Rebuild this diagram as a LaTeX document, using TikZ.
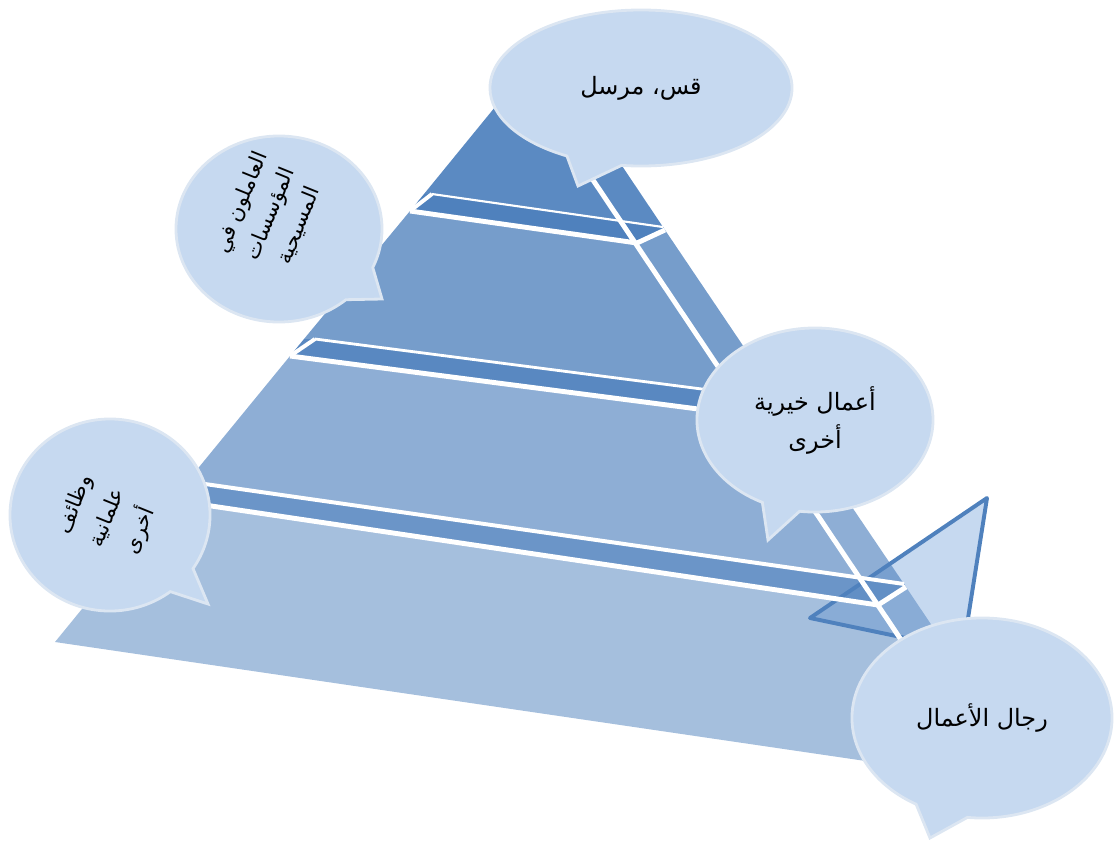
\documentclass[tikz,border=0pt]{standalone}
\usepackage{fontspec}
\usepackage{tikz}
\usetikzlibrary{shapes.callouts}
\newfontfamily\arabicfont[Script=Arabic]{DejaVu Sans}
\TeXXeTstate=1
\definecolor{pyrblue}{HTML}{4F81BD}
\definecolor{bubblefill}{HTML}{C6D9F0}
\definecolor{bubbleline}{HTML}{DCE6F2}

\begin{document}
\begin{tikzpicture}[x=0.025cm, y=-0.025cm,
    bubble/.style={ellipse callout, fill=bubblefill, draw=bubbleline,
      line width=2pt, inner sep=0pt, align=center,
      font=\arabicfont\fontsize{17}{27}\selectfont},
    sidetext/.style={rotate=68, align=center, inner sep=0pt,
      font=\arabicfont\fontsize{15}{22}\selectfont},
    gapline/.style={white, line width=3.5pt},
    backline/.style={white, line width=1.5pt}]
    \useasboundingbox (0,0) rectangle (1114,844);

    % Triangle behind the pyramid
    \filldraw[fill=bubblefill, draw=pyrblue, line width=2.8pt, line join=round]
        (987,498) -- (810,618) -- (963,650) -- cycle;

    % Corners of the pyramid
    \coordinate (apex) at (522,74);
    \coordinate (sidetop) at (551,60);
    \coordinate (baseL) at (55,642);
    \coordinate (baseR) at (995,780);
    \coordinate (baseS) at (1026,766);

    % Steps: front left, left edge, back left, back right, side, front right
    \coordinate (fl1) at (410,211); \coordinate (lb1) at (424,194);
    \coordinate (bl1) at (432,194); \coordinate (br1) at (663,227);
    \coordinate (s1) at (665,230);  \coordinate (fr1) at (637,243);

    \coordinate (fl2) at (290,356); \coordinate (lb2) at (304,339);
    \coordinate (bl2) at (315,339); \coordinate (br2) at (779,399);
    \coordinate (s2) at (781,402);  \coordinate (fr2) at (752,416);

    \coordinate (fl3) at (171,500); \coordinate (lb3) at (186,483);
    \coordinate (bl3) at (198,483); \coordinate (br3) at (904,584);
    \coordinate (s3) at (906,587);  \coordinate (fr3) at (878,605);

    % Layers
    \fill[pyrblue, fill opacity=0.93] (apex) -- (sidetop) -- (br1) -- (bl1) -- (lb1) -- cycle;
    \fill[pyrblue, fill opacity=0.78] (fl1) -- (fr1) -- (s1) -- (br2) -- (bl2) -- (lb2) -- cycle;
    \fill[pyrblue, fill opacity=0.64] (fl2) -- (fr2) -- (s2) -- (br3) -- (bl3) -- (lb3) -- cycle;
    \fill[pyrblue, fill opacity=0.51] (fl3) -- (fr3) -- (s3) -- (baseS) -- (baseR) -- (baseL) -- cycle;

    % Top faces of the steps
    \fill[pyrblue] (fl1) -- (lb1) -- (bl1) -- (br1) -- (s1) -- (fr1) -- cycle;
    \fill[pyrblue, fill opacity=0.94] (fl2) -- (lb2) -- (bl2) -- (br2) -- (s2) -- (fr2) -- cycle;
    \fill[pyrblue, fill opacity=0.84] (fl3) -- (lb3) -- (bl3) -- (br3) -- (s3) -- (fr3) -- cycle;

    % White gaps
    \draw[gapline] (apex) -- (baseR);
    \foreach \i in {1,2,3} {
        \draw[gapline] (fl\i) -- (fr\i) -- (s\i);
        \draw[gapline, line width=2.8pt] (fl\i) -- (bl\i);
    }
    \draw[backline] (bl1) -- (br1);
    \draw[backline, line width=2pt] (bl2) -- (br2);
    \draw[backline, line width=2.8pt] (bl3) -- (br3);

    % Speech bubbles
    \node[bubble, minimum width=7.55cm, minimum height=3.9cm,
        callout absolute pointer={(578,186)}, callout pointer arc=22]
        (priest) at (641,88) {\beginR قس، مرسل\endR};
    \node[bubble, minimum width=5.15cm, minimum height=4.65cm,
        callout absolute pointer={(382,299)}, callout pointer arc=25]
        (workers) at (279,229) {};
    \node[sidetext] (workerstext) at (270,214)
        {\beginR العاملون في\endR\\\beginR المؤسسات\endR\\\beginR المسيحية\endR};
    \node[bubble, minimum width=5.9cm, minimum height=4.6cm,
        callout absolute pointer={(768,540)}, callout pointer arc=19]
        (charity) at (815,420) {\beginR أعمال خيرية\endR\\\beginR أخرى\endR};
    \node[bubble, minimum width=5cm, minimum height=4.8cm,
        callout absolute pointer={(208,604)}, callout pointer arc=19]
        (secular) at (110,515) {};
    \node[sidetext, font=\arabicfont\fontsize{15}{25}\selectfont]
        (seculartext) at (108,518)
        {\beginR وظائف\endR\\\beginR علمانية\endR\\\beginR أخرى\endR};
    \node[bubble, minimum width=6.5cm, minimum height=5cm,
        callout absolute pointer={(930,838)}, callout pointer arc=24]
        (business) at (982,718) {\beginR رجال الأعمال\endR};
\end{tikzpicture}
\end{document}
